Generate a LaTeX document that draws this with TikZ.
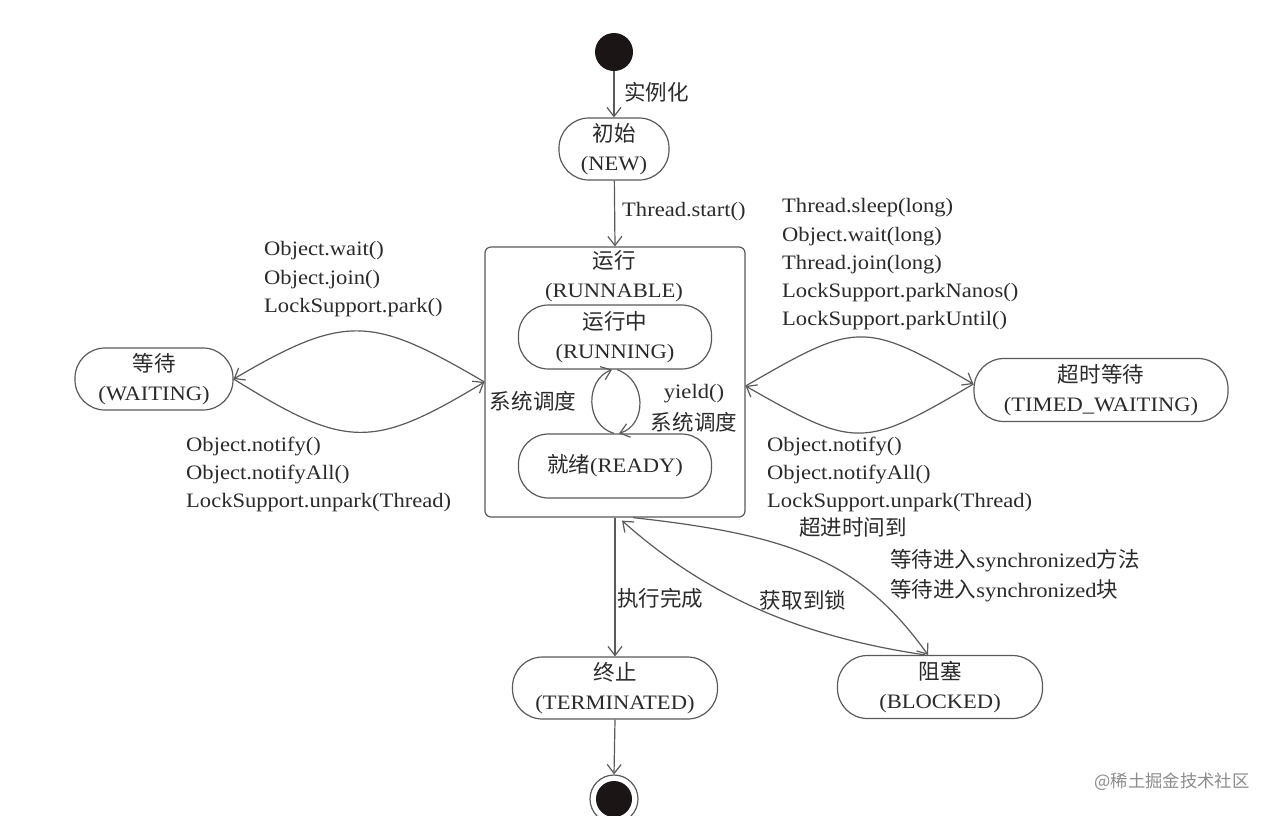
\documentclass[tikz,border=0pt]{standalone}
\usepackage{fontspec}
\setmainfont{Liberation Serif}[FakeStretch=1.1]
\newfontfamily\cjk{Noto Sans CJK SC}[Scale=1.05]
\usetikzlibrary{arrows.meta,calc}
\newcommand\zh[1]{{\cjk #1}}
\definecolor{ln}{HTML}{5A5A5A}
\definecolor{tx}{HTML}{2A2A2A}
\definecolor{dot}{HTML}{1C1515}
\begin{document}
\begin{tikzpicture}[x=1pt,y=-1pt,
  every node/.style={text=tx, font=\fontsize{20.5}{28.4}\selectfont, inner sep=0pt},
  state/.style={draw=ln, line width=1.2pt, rounded corners=30pt, align=center},
  conn/.style={draw=ln, line width=1.2pt, -{Straight Barb[length=9pt,width=14pt]}},
  lbl/.style={anchor=west},
]
\useasboundingbox[fill=white] (0,0) rectangle (1274,815);

% states
\node[circle, fill=dot, minimum size=38pt] (start) at (614,52) {};
\node[state, minimum width=110pt, minimum height=62pt] (new) at (614,149) {\zh{初始}\\(NEW)};
\node[draw=ln, line width=1.2pt, rounded corners=6pt, minimum width=260pt, minimum height=270pt] (run) at (615,382) {};
\node[align=center] (runt) at (614,276) {\zh{运行}\\(RUNNABLE)};
\node[state, minimum width=193pt, minimum height=64pt] (running) at (615,337) {\zh{运行中}\\(RUNNING)};
\node[state, minimum width=193pt, minimum height=64pt] (ready) at (615,466) {\zh{就绪}(READY)};
\node[state, minimum width=158pt, minimum height=62pt] (wait) at (154,379) {\zh{等待}\\(WAITING)};
\node[state, minimum width=254pt, minimum height=63pt] (timed) at (1101,390) {\zh{超时等待}\\(TIMED\_WAITING)};
\node[state, minimum width=205pt, minimum height=62pt] (term) at (615,688) {\zh{终止}\\(TERMINATED)};
\node[state, minimum width=205pt, minimum height=63pt] (blocked) at (940,687) {\zh{阻塞}\\(BLOCKED)};
\node[circle, draw=ln, line width=1.2pt, minimum size=48pt] (endo) at (614,799) {};
\node[circle, fill=dot, minimum size=36pt] (endi) at (614,799) {};

% straight connectors
\draw[conn] (start) -- (new);
\draw[conn] (new) -- (run.north);
\draw[conn] (run.south) -- (term.north);
\draw[conn] (term.south) -- (endo.north);

% waiting lens
\draw[conn] (run.west) .. controls (372,316) and (346,313) .. (wait.east);
\draw[conn] (wait.east) .. controls (346,449) and (372,450) .. (run.west);

% timed waiting lens
\draw[conn] ([yshift=-4pt]run.east) .. controls (856,322) and (863,320) .. ([yshift=6pt]timed.west);
\draw[conn] ([yshift=6pt]timed.west) .. controls (863,449) and (856,449) .. ([yshift=-4pt]run.east);

% running / ready loop
\draw[conn] ([xshift=-1pt]ready.north) .. controls (585,425) and (585,380) .. ([xshift=-3pt]running.south);
\draw[conn] ([xshift=2pt]running.south) .. controls (647,380) and (647,425) .. ([xshift=4pt]ready.north);

% blocked
\draw[conn] ([xshift=18pt]run.south) .. controls (790,535) and (860,560) .. ([xshift=-12pt]blocked.north);
\draw[conn] ([xshift=-15pt]blocked.north) .. controls (790,635) and (700,590) .. ([xshift=7pt,yshift=-3pt]run.south);

% labels
\node[lbl] (l1) at (624,92) {\zh{实例化}};
\node[lbl] (l2) at (622,212) {Thread.start()};
\node (l3) at (533,401) {\zh{系统调度}};
\node (l4) at (694,394) {yield()};
\node (l5) at (694,422) {\zh{系统调度}};
\foreach \t [count=\i] in {Object.wait(), Object.join(), LockSupport.park()}
  \node[lbl] (wu\i) at (264, 222.5+28.5*\i) {\t};
\foreach \t [count=\i] in {Object.notify(), Object.notifyAll(), LockSupport.unpark(Thread)}
  \node[lbl] (wd\i) at (186, 417.5+28.5*\i) {\t};
\foreach \t [count=\i] in {Thread.sleep(long), Object.wait(long), Thread.join(long), LockSupport.parkNanos(), LockSupport.parkUntil()}
  \node[lbl] (tu\i) at (782, 179.5+28.3*\i) {\t};
\foreach \t [count=\i] in {Object.notify(), Object.notifyAll(), LockSupport.unpark(Thread)}
  \node[lbl] (td\i) at (767, 417.5+28.5*\i) {\t};
\node (l6) at (853,527) {\zh{超进时间到}};
\node[lbl] (l7) at (890,561) {\zh{等待进入}synchronized\zh{方法}};
\node[lbl] (l8) at (890,591) {\zh{等待进入}synchronized\zh{块}};
\node (l9) at (803,600) {\zh{获取到锁}};
\node[lbl] (l10) at (617,598) {\zh{执行完成}};

\node[text=black!45, font=\cjk\fontsize{16.5}{17}\selectfont] (wm) at (1172,782) {@稀土掘金技术社区};
\end{tikzpicture}
\end{document}
